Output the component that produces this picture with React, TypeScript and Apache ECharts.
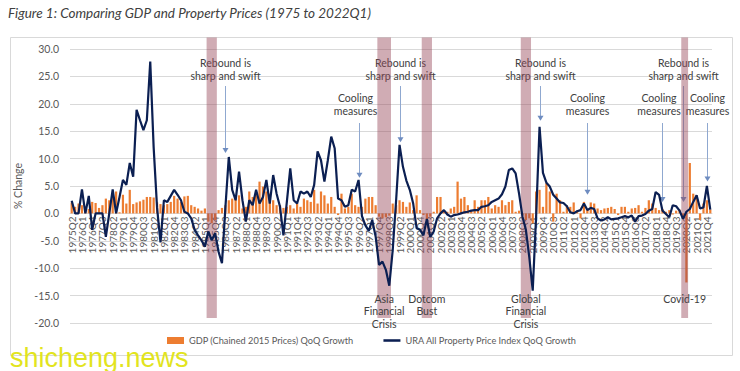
import React, { useEffect, useRef } from 'react';
import * as echarts from 'echarts';

// ---------- categories (quarters 1975Q2 .. 2022Q1) ----------
const quarters: string[] = [];
for (let y = 1975; y <= 2022; y++) {
  for (let q = 1; q <= 4; q++) {
    if ((y === 1975 && q < 2) || (y === 2022 && q > 1)) continue;
    quarters.push(`${y}Q${q}`);
  }
}

const gdpName = 'GDP (Chained 2015 Prices) QoQ Growth';
const uraName = 'URA All Property Price Index QoQ Growth';

// GDP QoQ growth (%), one row per year
const gdpGrowth: number[] = [
  2.0, 1.2, 1.8,
  1.5, 1.0, 0.8, 2.1,
  1.9, 1.0, 1.5, 2.7,
  2.4, 3.4, 4.0, 0.2,
  3.4, 1.8, 4.3, 1.7,
  2.0, 2.2, 2.5, 3.0,
  3.0, 2.9, 2.0, 1.7,
  1.5, 1.7, 2.1, 3.2,
  2.7, 2.1, 3.1, 3.2,
  1.5, 1.2, 0.9, 0.5,
  0.9, -1.5, -1.8, -1.2,
  0.6, 1.0, 1.5, 2.4,
  2.7, 3.0, 3.3, 0.9,
  1.2, 4.0, 3.0, 3.6,
  5.8, 4.9, 4.0, 3.6,
  2.4, 1.5, 1.5, 1.0,
  1.2, 1.5, 0.9, 1.8,
  1.2, 2.7, 2.4, 2.1,
  4.3, 1.8, 4.0, 3.3,
  1.8, 3.0, 1.2, -0.3,
  3.6, 0.9, 1.2, 3.6,
  1.5, 1.2, 1.2, 2.7,
  3.0, 3.0, 1.5, -0.6,
  -0.9, -0.7, -0.4, 1.8,
  1.5, 2.4, 2.1, 1.2,
  2.0, 0.6, 3.3, 0.6,
  -0.3, -1.2, -0.6, 0.3,
  3.0, 3.0, 0.3, 0.3,
  0.9, 1.2, 5.8, 2.7,
  3.0, 1.5, 0.6, 2.4,
  1.2, 2.4, 2.4, 3.0,
  0.9, 1.5, 1.2, 2.4,
  1.5, 2.1, 2.4, 0.3,
  0.5, -0.3, -1.2, -0.9,
  -1.8, 4.0, 4.3, 1.2,
  5.5, 4.0, -1.5, 3.6,
  2.4, 0.3, 1.5, 1.2,
  2.0, 0.5, -0.9, 2.1,
  0.8, 2.0, 1.8, 0.9,
  0.6, 0.9, 1.0, 1.2,
  0.8, -0.3, 1.2, 1.2,
  0.3, 0.9, 1.0, 1.5,
  0.3, 1.0, 2.4, 1.8,
  1.0, 0.6, 0.8, 0.3,
  0.6, -0.2, 0.5, 0.7,
  -0.6, -12.6, 9.2, 3.6,
  3.3, -1.2, 1.8, 2.4,
  0.7,
];

// URA All Property Price Index QoQ growth (%), one row per year
const propertyGrowth: number[] = [
  2.3, 0.0, 0.0,
  4.4, 0.0, 3.2, -3.0,
  0.0, 0.0, 0.0, -4.3,
  0.0, 4.4, 0.0, 3.0,
  6.1, 5.2, 9.2, 6.7,
  18.9, 17.0, 15.2, 17.0,
  27.7, 12.0, 1.0, -5.3,
  2.4, 2.1, 3.2, 4.3,
  3.4, 2.4, 0.3, 0.0,
  -0.9, -3.0, -4.0, -4.9,
  -6.1, -3.3, -4.9, -3.6,
  -7.0, -9.1, 1.0, 10.3,
  4.3, 2.4, 7.6, 2.4,
  -1.5, 2.4, 1.5, 4.3,
  1.8, 3.0, 6.1, 1.8,
  7.0, 3.6, 1.2, -4.0,
  2.1, 8.2, 2.4, 1.8,
  4.0, 3.6, 4.0, 3.0,
  5.2, 11.3, 9.7, 5.8,
  9.7, 14.0, 11.9, 2.7,
  2.4, 1.2, 1.5, 4.3,
  4.0, 6.1, -0.5, -2.2,
  -3.2, -1.2, -4.2, -9.4,
  -8.8, -10.3, -13.2, -6.7,
  2.4, 12.5, 8.5, 6.0,
  4.3, 1.8, -2.7, -3.0,
  -4.0, -1.0, -4.3, -3.3,
  -0.9, 0.0, 0.6, -0.2,
  -0.6, -0.3, -0.2, 0.0,
  0.2, 0.3, 0.5, 0.6,
  0.6, 1.2, 1.3, 1.5,
  2.1, 2.4, 2.7, 3.5,
  4.9, 7.9, 8.2, 7.3,
  3.6, -0.6, -3.0, -8.0,
  -14.1, -0.5, 15.8, 7.4,
  5.6, 4.9, 3.4, 2.7,
  2.0, 1.9, 1.3, 0.2,
  0.0, 0.4, 0.6, 1.8,
  0.6, 1.0, 0.8, -0.9,
  -1.3, -1.1, -0.7, -1.1,
  -1.0, -0.9, -0.7, -0.5,
  -0.7, -0.4, -1.5, -0.5,
  -0.4, -0.1, 0.5, 0.8,
  3.9, 3.4, 0.5, -0.1,
  -0.7, 1.5, 1.3, 0.5,
  -1.0, 0.3, 0.8, 2.1,
  3.3, 0.9, 1.1, 5.0,
  0.7,
];

// recession shading
const bandStart = ['1985Q2', '1997Q4', '2001Q1', '2008Q2', '2020Q1'];
const bandEnd = ['1985Q4', '1998Q3', '2001Q3', '2008Q4', '2020Q2'];
const bandLabels = ['', 'Asia\nFinancial\nCrisis', 'Dotcom\nBust', 'Global\nFinancial\nCrisis', 'Covid-19'];

// annotations with arrows
const noteQuarters = ['1986Q3', '1996Q2', '1999Q2', '2009Q3', '2013Q1', '2018Q3', '2020Q1', '2021Q4'];
const noteTips = [11.0, 6.5, 13.0, 16.9, 3.4, 2.1, 2.1, 5.8];
const noteTexts = [
  'Rebound is\nsharp and swift',
  'Cooling\nmeasures',
  'Rebound is\nsharp and swift',
  'Rebound is\nsharp and swift',
  'Cooling\nmeasures',
  'Cooling\nmeasures',
  'Rebound is\nsharp and swift',
  'Cooling\nmeasures',
];

const FONT = 'Lato';
const BAND_TOP = 32.1;
const BAND_BOTTOM = -19.1;

export default function App() {
  const ref = useRef<HTMLDivElement>(null);

  useEffect(() => {
    if (!ref.current) return;
    const chart = echarts.init(ref.current, undefined, { renderer: 'svg' });

    const bandData = bandStart.map((s, k) => [quarters.indexOf(s), quarters.indexOf(bandEnd[k])]);

    chart.setOption({
      animation: false,
      backgroundColor: '#ffffff',
      textStyle: { fontFamily: FONT },
      grid: { left: 70, right: 28, top: 49, bottom: 48, outerBoundsMode: 'none' },
      legend: {
        left: 162,
        top: 331,
        itemWidth: 17,
        itemHeight: 7,
        itemGap: 30,
        data: [
          { name: gdpName, icon: 'rect' },
          { name: uraName, icon: 'path://M0,0L20,0L20,3L0,3Z' },
        ],
        textStyle: { fontFamily: FONT, fontSize: 9.2, color: '#595959' },
      },
      xAxis: {
        type: 'category',
        data: quarters,
        boundaryGap: true,
        offset: 0,
        axisLine: { show: true, onZero: false, lineStyle: { color: '#d9d9d9' } },
        axisTick: { show: false },
        axisLabel: {
          interval: 2,
          rotate: 90,
          margin: 3,
          color: '#595959',
          fontSize: 10,
          fontFamily: FONT,
        },
        splitLine: { show: false },
      },
      yAxis: {
        type: 'value',
        min: -20,
        max: 30,
        interval: 5,
        name: '% Change',
        nameLocation: 'middle',
        nameGap: 42,
        nameTextStyle: { color: '#595959', fontSize: 10.5, fontFamily: FONT },
        axisLine: { show: false },
        axisTick: { show: false },
        axisLabel: {
          formatter: (v: number) => v.toFixed(1),
          color: '#595959',
          fontSize: 10.5,
          fontFamily: FONT,
          margin: 11,
        },
        splitLine: { lineStyle: { color: '#d9d9d9', width: 1 } },
      },
      series: [
        {
          type: 'bar',
          name: gdpName,
          data: gdpGrowth,
          barCategoryGap: '35%',
          itemStyle: { color: '#ED7D31' },
          z: 2,
        },
        {
          type: 'custom',
          name: 'bands',
          silent: true,
          z: 3,
          clip: false,
          data: bandData,
          encode: { x: [0, 1] },
          renderItem: (params: any, api: any) => {
            const s = api.value(0);
            const e = api.value(1);
            const w = api.size([1, 0])[0];
            const p1 = api.coord([s, BAND_TOP]);
            const p2 = api.coord([e, BAND_BOTTOM]);
            const x0 = p1[0] - w / 2;
            const x1 = p2[0] + w / 2;
            const label = bandLabels[params.dataIndex];
            const children: any[] = [
              {
                type: 'rect',
                shape: { x: x0, y: p1[1], width: x1 - x0, height: p2[1] - p1[1] },
                style: { fill: 'rgba(150,72,88,0.45)' },
              },
            ];
            if (label) {
              children.push({
                type: 'text',
                style: {
                  text: label,
                  x: (x0 + x1) / 2,
                  y: 292.5,
                  align: 'center',
                  textAlign: 'center',
                  verticalAlign: 'top',
                  textVerticalAlign: 'top',
                  fontSize: 10.5,
                  fontFamily: FONT,
                  lineHeight: 12.5,
                  fill: '#404040',
                },
              });
            }
            return { type: 'group', children };
          },
        },
        {
          type: 'line',
          name: uraName,
          data: propertyGrowth,
          symbol: 'none',
          lineStyle: { color: '#0B1F52', width: 2.2 },
          itemStyle: { color: '#0B1F52' },
          z: 4,
        },
      ],
    });

    // move the category axis (line + labels) up to the zero line
    const zeroY = chart.convertToPixel({ yAxisIndex: 0 }, 0) as number;
    const minY = chart.convertToPixel({ yAxisIndex: 0 }, -20) as number;
    chart.setOption({ xAxis: { offset: zeroY - minY } });

    const graphics: any[] = [
      {
        type: 'rect',
        silent: true,
        shape: { x: 10.5, y: 37.5, width: 722, height: 318 },
        style: { fill: 'none', stroke: '#d9d9d9', lineWidth: 1 },
      },
      {
        type: 'text',
        style: {
          text: 'Figure 1: Comparing GDP and Property Prices (1975 to 2022Q1)',
          x: 8,
          y: 13,
          verticalAlign: 'middle',
          textVerticalAlign: 'middle',
          fontStyle: 'italic',
          fontSize: 13.5,
          fontFamily: FONT,
          fill: '#404040',
        },
      },
      {
        type: 'text',
        z: 100,
        style: {
          text: 'shicheng.news',
          x: 10,
          y: 371,
          verticalAlign: 'bottom',
          textVerticalAlign: 'bottom',
          fontSize: 27,
          fontFamily: 'Liberation Sans',
          fill: '#e2e41e',
        },
      },
    ];

    noteQuarters.forEach((q, k) => {
      const idx = quarters.indexOf(q);
      const tip = chart.convertToPixel({ gridIndex: 0 }, [idx, noteTips[k]]) as number[];
      const x = Math.round(tip[0]) + 0.5;
      const isRebound = noteTexts[k].startsWith('Rebound');
      const textY = isRebound ? 69.5 : 104.5;
      const lineTop = isRebound ? 86 : 123;
      const dx = k === 1 ? -4 : k === 5 ? -3.5 : 0;
      graphics.push({
        type: 'text',
        style: {
          text: noteTexts[k],
          x: x + dx,
          y: textY,
          align: 'center',
          textAlign: 'center',
          verticalAlign: 'middle',
          textVerticalAlign: 'middle',
          fontSize: 10.5,
          fontFamily: FONT,
          lineHeight: 12.5,
          fill: '#404040',
        },
      });
      graphics.push({
        type: 'line',
        silent: true,
        shape: { x1: x, y1: lineTop, x2: x, y2: tip[1] - 4 },
        style: { stroke: '#8FA8D0', lineWidth: 1 },
      });
      graphics.push({
        type: 'polygon',
        silent: true,
        shape: { points: [[x - 3, tip[1] - 5], [x + 3, tip[1] - 5], [x, tip[1]]] },
        style: { fill: '#6E8CC0' },
      });
    });

    chart.setOption({ graphic: graphics });

    return () => chart.dispose();
  }, []);

  return (
    <div
      ref={ref}
      style={{ position: 'absolute', left: 0, top: 0, width: 740, height: 371, background: '#fff' }}
    />
  );
}
